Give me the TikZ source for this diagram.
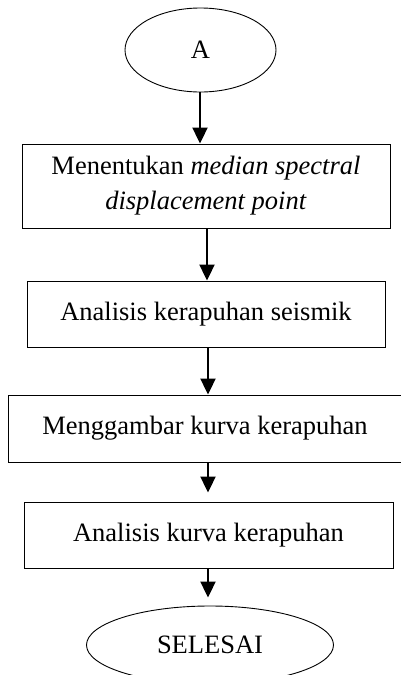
\documentclass[tikz,border=0pt]{standalone}
\usepackage{fontspec}
\setmainfont{Liberation Serif}
\usetikzlibrary{shapes.geometric,arrows.meta}
\begin{document}
\begin{tikzpicture}[x=1pt,y=-1pt,
  stepbox/.style={draw, line width=0.9pt, rectangle, inner sep=0pt, align=center,
    font=\fontsize{26.5}{35}\selectfont},
  term/.style={draw, line width=0.9pt, ellipse, inner sep=0pt,
    font=\fontsize{26.5}{35}\selectfont},
  arr/.style={line width=2pt, -{Triangle[width=15pt,length=16pt]}}]
\useasboundingbox (0,0) rectangle (400,675);
\node[term, minimum width=151pt, minimum height=84pt] (a) at (200.5,50) {A};
\node[stepbox, minimum width=368pt, minimum height=84pt] (b1) at (206,186)
  {Menentukan \textit{median spectral}\\\textit{displacement point}};
\node[stepbox, minimum width=358pt, minimum height=66pt] (b2) at (206,314)
  {Analisis kerapuhan seismik};
\node[stepbox, minimum width=394pt, minimum height=67pt] (b3) at (205,428.5)
  {Menggambar kurva kerapuhan};
\node[stepbox, minimum width=369pt, minimum height=66pt] (b4) at (208.5,535)
  {Analisis kurva kerapuhan};
\node[term, minimum width=247pt, minimum height=78pt] (s) at (210,645) {SELESAI};
\draw[arr] (a.south -| 200,0) -- (b1.north -| 200,0);
\draw[arr] (b1.south -| 207,0) -- (b2.north -| 207,0);
\draw[arr] (b2.south -| 208,0) -- (b3.north -| 208,0);
\draw[arr, shorten >=9pt] (b3.south -| 208,0) -- (b4.north -| 208,0);
\draw[arr, shorten >=8pt] (b4.south -| 208,0) -- (s.north -| 208,0);
\end{tikzpicture}
\end{document}
